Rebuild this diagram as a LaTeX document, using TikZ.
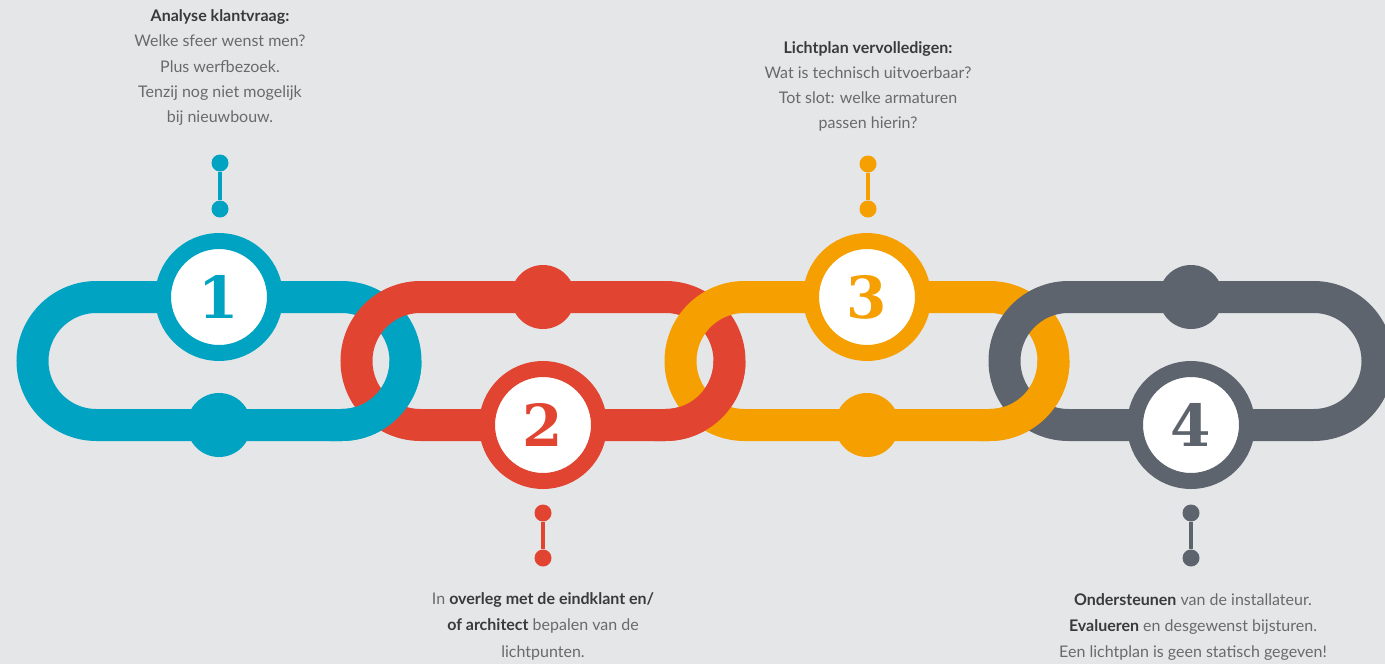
\documentclass[tikz,border=0pt]{standalone}
\usepackage{fontspec}
\setmainfont{Lato}
\newfontfamily\numfont{DejaVu Serif}
\usepackage{xcolor}
\definecolor{bgGray}{HTML}{E5E6E8}
\definecolor{chainBlue}{HTML}{00A4C2}
\definecolor{chainRed}{HTML}{E14532}
\definecolor{chainOrange}{HTML}{F59F00}
\definecolor{chainGray}{HTML}{5D646E}
\definecolor{txtGray}{HTML}{6A6A6A}
\definecolor{txtDark}{HTML}{3A3A3A}

\begin{document}
\begin{tikzpicture}[x=1pt,y=-1pt,
    link/.style={line width=32pt, rounded corners=64pt},
    num node/.style={circle, draw=#1, fill=white, line width=16pt, minimum size=112pt, inner sep=0pt, text=#1, font=\numfont\bfseries\fontsize{58}{58}\selectfont},
    knob/.style={circle, fill=#1, minimum size=64pt, inner sep=0pt},
    pin/.style={circle, fill=#1, minimum size=17pt, inner sep=0pt},
    info/.style={align=center, anchor=north, inner sep=0pt, text=txtGray, font=\fontsize{16}{25.3}\selectfont}]

            \path[use as bounding box, fill=bgGray] (0,0) rectangle (1385,664);
            \clip (0,0) rectangle (1385,664);

            % the four links, left to right
            \draw[link, chainBlue] (32.5,297) rectangle (405.5,425);
            \draw[link, chainRed] (356.5,297) rectangle (729.5,425);
            \draw[link, chainOrange] (680.5,297) rectangle (1053.5,425);
            \draw[link, chainGray] (1004.5,297) rectangle (1377.5,425);

            % lower crossings: left link lies on top
            \begin{scope}
                \clip (330,361) rectangle (432,460);
                \draw[link, chainBlue] (32.5,297) rectangle (405.5,425);
            \end{scope}
            \begin{scope}
                \clip (654,361) rectangle (756,460);
                \draw[link, chainRed] (356.5,297) rectangle (729.5,425);
            \end{scope}
            \begin{scope}
                \clip (978,361) rectangle (1080,460);
                \draw[link, chainOrange] (680.5,297) rectangle (1053.5,425);
            \end{scope}

            \node[num node=chainBlue] (n1) at (219,297) {1};
            \node[num node=chainRed] (n2) at (543,425) {2};
            \node[num node=chainOrange] (n3) at (867,297) {3};
            \node[num node=chainGray] (n4) at (1191,425) {4};

            \node[knob=chainBlue] (k1) at (219,425) {};
            \node[knob=chainRed] (k2) at (543,297) {};
            \node[knob=chainOrange] (k3) at (867,425) {};
            \node[knob=chainGray] (k4) at (1191,297) {};

            \node[pin=chainBlue] (p1a) at (220,163) {};
            \node[pin=chainBlue] (p1b) at (220,209) {};
            \node[pin=chainRed] (p2a) at (543,513) {};
            \node[pin=chainRed] (p2b) at (543,558) {};
            \node[pin=chainOrange] (p3a) at (868,164) {};
            \node[pin=chainOrange] (p3b) at (868,209) {};
            \node[pin=chainGray] (p4a) at (1191,513) {};
            \node[pin=chainGray] (p4b) at (1191,558) {};

            \draw[line width=4pt, chainBlue] (p1a) to (p1b);
            \draw[line width=4pt, chainRed] (p2a) to (p2b);
            \draw[line width=4pt, chainOrange] (p3a) to (p3b);
            \draw[line width=4pt, chainGray] (p4a) to (p4b);

            \node[info] (t1) at (220,9.5) {\textcolor{txtDark}{\textbf{Analyse klantvraag:}}\\Welke sfeer wenst men?\\Plus werfbezoek.\\Tenzij nog niet mogelijk\\bij nieuwbouw.};
            \node[info] (t3) at (868,41) {\textcolor{txtDark}{\textbf{Lichtplan vervolledigen:}}\\Wat is technisch uitvoerbaar?\\Tot slot: welke armaturen\\passen hierin?};
            \node[info, font=\fontsize{16}{26.3}\selectfont] (t2) at (543,592.5) {In \textcolor{txtDark}{\textbf{overleg met de eindklant en/}}\\\textcolor{txtDark}{\textbf{of architect}} bepalen van de\\lichtpunten.};
            \node[info, font=\fontsize{16}{26}\selectfont] (t4) at (1193,593.5) {\textcolor{txtDark}{\textbf{Ondersteunen}} van de installateur.\\\textcolor{txtDark}{\textbf{Evalueren}} en desgewenst bijsturen.\\Een lichtplan is geen statisch gegeven!};

        \end{tikzpicture}
\end{document}
